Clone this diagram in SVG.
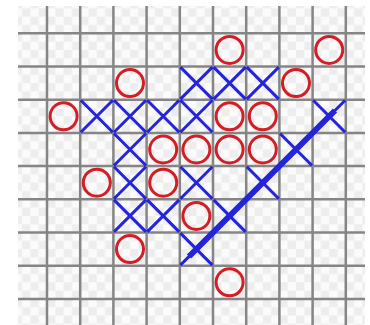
<svg xmlns="http://www.w3.org/2000/svg" xmlns:xlink="http://www.w3.org/1999/xlink" width="370" height="325" viewBox="0 0 370 325">
  <style>
    .grid line { stroke: #858585; stroke-width: 2.5; }
    .x { stroke: #2424dc; stroke-width: 3; stroke-linecap: butt; fill: none; }
    .o { stroke: #d41e26; stroke-width: 3; fill: none; }
    .win { stroke: #2424dc; stroke-width: 6; stroke-linecap: butt; }
  </style>
  <defs>
    <pattern id="chk" patternUnits="userSpaceOnUse" x="13.8" y="0.1" width="16.6" height="16.6">
      <rect width="16.6" height="16.6" fill="#fbfbfb"/>
      <rect width="8.3" height="8.3" fill="#ededed"/>
      <rect x="8.3" y="8.3" width="8.3" height="8.3" fill="#ededed"/>
    </pattern>
    <path id="X" class="x" d="M-16,-16 L16,16 M16,-16 L-16,16"/>
    <circle id="O" class="o" r="13.5"/>
  </defs>
  <rect width="370" height="325" fill="#ffffff"/>
  <rect x="18" y="6" width="347" height="319" fill="url(#chk)"/>
  <g class="grid" id="grid">
    <line x1="47" y1="6" x2="47" y2="325"/>
    <line x1="80.2" y1="6" x2="80.2" y2="325"/>
    <line x1="113.4" y1="6" x2="113.4" y2="325"/>
    <line x1="146.6" y1="6" x2="146.6" y2="325"/>
    <line x1="179.8" y1="6" x2="179.8" y2="325"/>
    <line x1="213" y1="6" x2="213" y2="325"/>
    <line x1="246.2" y1="6" x2="246.2" y2="325"/>
    <line x1="279.4" y1="6" x2="279.4" y2="325"/>
    <line x1="312.6" y1="6" x2="312.6" y2="325"/>
    <line x1="345.8" y1="6" x2="345.8" y2="325"/>
    <line x1="18" y1="33.3" x2="365" y2="33.3"/>
    <line x1="18" y1="66.5" x2="365" y2="66.5"/>
    <line x1="18" y1="99.7" x2="365" y2="99.7"/>
    <line x1="18" y1="132.9" x2="365" y2="132.9"/>
    <line x1="18" y1="166.1" x2="365" y2="166.1"/>
    <line x1="18" y1="199.3" x2="365" y2="199.3"/>
    <line x1="18" y1="232.5" x2="365" y2="232.5"/>
    <line x1="18" y1="265.7" x2="365" y2="265.7"/>
    <line x1="18" y1="298.9" x2="365" y2="298.9"/>
  </g>
  <g id="pieces-x">
    <g id="x-5-2"><use xlink:href="#X" x="196.4" y="83.1"/></g>
    <g id="x-6-2"><use xlink:href="#X" x="229.6" y="83.1"/></g>
    <g id="x-7-2"><use xlink:href="#X" x="262.8" y="83.1"/></g>
    <g id="x-2-3"><use xlink:href="#X" x="96.8" y="116.3"/></g>
    <g id="x-3-3"><use xlink:href="#X" x="130" y="116.3"/></g>
    <g id="x-4-3"><use xlink:href="#X" x="163.2" y="116.3"/></g>
    <g id="x-5-3"><use xlink:href="#X" x="196.4" y="116.3"/></g>
    <g id="x-9-3"><use xlink:href="#X" x="329.2" y="116.3"/></g>
    <g id="x-3-4"><use xlink:href="#X" x="130" y="149.5"/></g>
    <g id="x-8-4"><use xlink:href="#X" x="296" y="149.5"/></g>
    <g id="x-3-5"><use xlink:href="#X" x="130" y="182.7"/></g>
    <g id="x-5-5"><use xlink:href="#X" x="196.4" y="182.7"/></g>
    <g id="x-7-5"><use xlink:href="#X" x="262.8" y="182.7"/></g>
    <g id="x-3-6"><use xlink:href="#X" x="130" y="215.9"/></g>
    <g id="x-4-6"><use xlink:href="#X" x="163.2" y="215.9"/></g>
    <g id="x-6-6"><use xlink:href="#X" x="229.6" y="215.9"/></g>
    <g id="x-5-7"><use xlink:href="#X" x="196.4" y="249.1"/></g>
  </g>
  <g id="pieces-o">
    <g id="o-6-1"><use xlink:href="#O" x="229.6" y="49.9"/></g>
    <g id="o-9-1"><use xlink:href="#O" x="329.2" y="49.9"/></g>
    <g id="o-3-2"><use xlink:href="#O" x="130" y="83.1"/></g>
    <g id="o-8-2"><use xlink:href="#O" x="296" y="83.1"/></g>
    <g id="o-1-3"><use xlink:href="#O" x="63.6" y="116.3"/></g>
    <g id="o-6-3"><use xlink:href="#O" x="229.6" y="116.3"/></g>
    <g id="o-7-3"><use xlink:href="#O" x="262.8" y="116.3"/></g>
    <g id="o-4-4"><use xlink:href="#O" x="163.2" y="149.5"/></g>
    <g id="o-5-4"><use xlink:href="#O" x="196.4" y="149.5"/></g>
    <g id="o-6-4"><use xlink:href="#O" x="229.6" y="149.5"/></g>
    <g id="o-7-4"><use xlink:href="#O" x="262.8" y="149.5"/></g>
    <g id="o-2-5"><use xlink:href="#O" x="96.8" y="182.7"/></g>
    <g id="o-4-5"><use xlink:href="#O" x="163.2" y="182.7"/></g>
    <g id="o-5-6"><use xlink:href="#O" x="196.4" y="215.9"/></g>
    <g id="o-3-7"><use xlink:href="#O" x="130" y="249.1"/></g>
    <g id="o-6-8"><use xlink:href="#O" x="229.6" y="282.3"/></g>
  </g>
  <g id="connectors">
    <line class="win" x1="189" y1="256.5" x2="335" y2="110.5"/>
  </g>
</svg>
